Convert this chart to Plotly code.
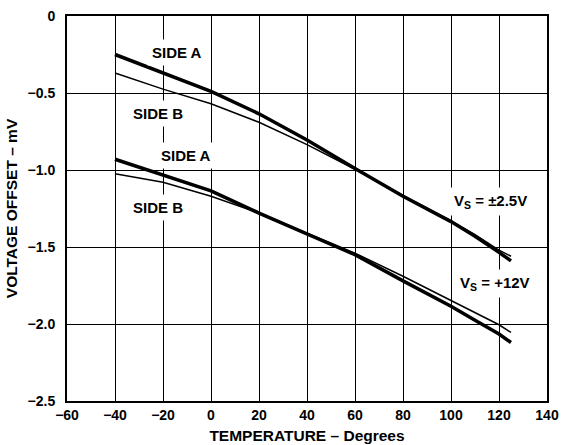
import plotly.graph_objects as go

# temperature points (degrees)
temps = [-40, -20, 0, 20, 40, 60, 80, 100, 110, 120, 125]

# offset in mV
vs25_side_a = [-0.25, -0.37, -0.49, -0.635, -0.805, -0.99, -1.17, -1.335, -1.43, -1.535, -1.59]
vs25_side_b = [-0.37, -0.475, -0.57, -0.69, -0.835, -0.995, -1.165, -1.33, -1.42, -1.52, -1.56]
vs12_side_a = [-0.93, -1.03, -1.135, -1.28, -1.415, -1.55, -1.72, -1.885, -1.975, -2.065, -2.12]
vs12_side_b = [-1.025, -1.08, -1.17, -1.28, -1.41, -1.54, -1.69, -1.85, -1.93, -2.005, -2.055]

x_ticks = [-60, -40, -20, 0, 20, 40, 60, 80, 100, 120, 140]
y_ticks = [0, -0.5, -1.0, -1.5, -2.0, -2.5]
y_ticktext = ['0', '\u22120.5', '\u22121.0', '\u22121.5', '\u22122.0', '\u22122.5']

# label text and where it sits (data coords)
labels = ['SIDE A', 'SIDE B', 'SIDE A', 'SIDE B', 'V<sub>S</sub> = \u00b12.5V', 'V<sub>S</sub> = +12V']
label_x = [-14, -22, -10.5, -22, 116.5, 118.5]
label_y = [-0.235, -0.63, -0.905, -1.245, -1.205, -1.735]

fig = go.Figure()
for ys, w in ((vs25_side_b, 1.5), (vs12_side_b, 1.5), (vs25_side_a, 3.5), (vs12_side_a, 3.5)):
    fig.add_trace(go.Scatter(x=temps, y=ys, mode='lines',
                             line=dict(color='black', width=w),
                             showlegend=False))

for t, lx, ly in zip(labels, label_x, label_y):
    fig.add_annotation(x=lx, y=ly, text=t, showarrow=False,
                       bgcolor='white', borderpad=4,
                       font=dict(size=15, color='black', weight='bold'))

fig.update_layout(
    width=563, height=445,
    margin=dict(l=67, r=16, t=16, b=44),
    paper_bgcolor='white', plot_bgcolor='white',
    font=dict(family='Liberation Sans, Arial, sans-serif', size=14,
              color='black', weight='bold'),
    xaxis=dict(range=[-60, 140], tickvals=x_ticks, showgrid=True,
               gridcolor='black', gridwidth=1, showline=True,
               linecolor='black', linewidth=2, mirror=True, ticks='',
               zeroline=False, automargin=False,
               title=dict(text='TEMPERATURE \u2013 Degrees', standoff=8,
                          font=dict(size=15.5))),
    yaxis=dict(range=[-2.5, 0], tickvals=y_ticks, ticktext=y_ticktext,
               showgrid=True, gridcolor='black', gridwidth=1,
               showline=True, linecolor='black', linewidth=2, mirror=True,
               ticks='', zeroline=False, automargin=False,
               ticklabelstandoff=7,
               title=dict(text='VOLTAGE OFFSET \u2013 mV', standoff=6,
                          font=dict(size=15.5))),
)

# drop the browser's default body margin so the figure fills the window
fig.write_html("out.html", config={'displayModeBar': False},
               post_script="document.body.style.margin='0';")
